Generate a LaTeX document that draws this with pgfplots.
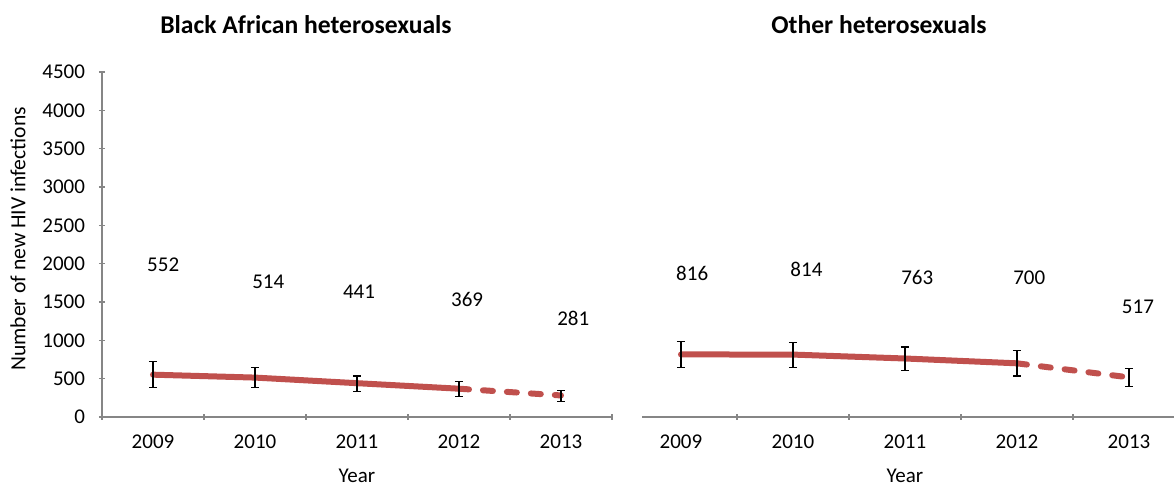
\documentclass[border=0pt]{standalone}
\usepackage{fontspec}
\setmainfont{Carlito}
\usepackage{pgfplots}
\usepackage{pgfplotstable}
\pgfplotsset{compat=1.18}

\definecolor{trendred}{RGB}{192,80,77}
\definecolor{axisgray}{RGB}{134,134,134}

% x: year index (0 = 2009), y: estimate, ep/em: upper/lower error,
% dx/ly: position of the value label
\pgfplotstableread{
x y   ep  em  dx    ly
0 552 169 170 0.10  1982
1 514 129 132 0.13  1764
2 441  94 111 0.02  1634
3 369  92 104 0.08  1535
4 281  62  81 0.12  1287
}\blackafrican

\pgfplotstableread{
x y   ep  em  dx    ly
0 816 166 168 0.10  1873
1 814 160 166 0.12  1925
2 763 150 159 0.11  1816
3 700 169 165 0.11  1816
4 517 118 122 0.08  1438
}\otherhet

\pgfplotsset{
  panel/.style={
    scale only axis,
    height=172.5pt,
    ymin=0, ymax=4500,
    clip=false,
    font=\fontsize{10.5}{12}\selectfont,
    /pgf/number format/assume math mode=true,
    /pgf/number format/1000 sep={},
    tick style={axisgray, line width=0.75pt},
    tick align=outside,
    major tick length=3pt,
    xticklabels={},
    extra x ticks={0,1,2,3,4},
    extra x tick labels={2009,2010,2011,2012,2013},
    extra x tick style={tick style={draw=none},
      xticklabel style={yshift=-4pt}},
  },
  flatlines/.style={axis line style={axisgray, line width=0.75pt, -}},
  trend/.style={trendred, line width=3pt, line cap=round, line join=round},
  trenddash/.style={trend, dash pattern=on 5pt off 7pt},
  ebars/.style={draw=none, mark=none, forget plot,
    error bars/.cd, y dir=both, y explicit,
    error bar style={black, line width=0.75pt},
    error mark options={black, line width=0.75pt, mark size=2pt, rotate=90}},
  vlabels/.style={draw=none, mark=none, forget plot,
    point meta=explicit symbolic,
    nodes near coords,
    nodes near coords align={center},
    every node near coord/.append style={anchor=center,
      font=\fontsize{10.5}{12}\selectfont, text=black}},
}

\begin{document}
\begin{tikzpicture}[x=1pt, y=1pt]
\useasboundingbox (0,0) rectangle (587,243);

% ---- Black African heterosexuals ----
\begin{axis}[panel,
  at={(51pt,34.5pt)}, anchor=south west,
  width=255pt,
  xmin=-0.5, xmax=4.5,
  axis x line=bottom, axis y line=left,
  flatlines,
  xtick={-0.5,0.5,1.5,2.5,3.5,4.5},
  ytick={0,500,...,4500},
  yticklabel style={xshift=-3.5pt},
  ylabel={Number of new HIV infections},
  ylabel style={at={(axis description cs:-0.1647,0.516)}, anchor=center,
    font=\fontsize{10.8}{12}\selectfont},
]
\addplot[trend] table[x=x, y=y, restrict x to domain=0:3] {\blackafrican};
\addplot[trenddash] table[x=x, y=y, restrict x to domain=3:4] {\blackafrican};
\addplot[ebars] table[x=x, y=y, y error plus=ep, y error minus=em] {\blackafrican};
\addplot[vlabels] table[x expr=\thisrow{x}+\thisrow{dx}, y=ly, meta=y] {\blackafrican};
\node[font=\fontsize{10.5}{12}\selectfont] at (axis cs:2,0) [yshift=-29.5pt] {Year};
\end{axis}

% ---- Other heterosexuals ----
\begin{axis}[panel,
  at={(321pt,34.5pt)}, anchor=south west,
  width=266pt,
  xmin=-0.348, xmax=4.402,
  axis x line=bottom, axis y line=none,
  flatlines,
  xtick={0.5,1.5,2.5,3.5},
  ytick=\empty,
]
\addplot[trend] table[x=x, y=y, restrict x to domain=0:3] {\otherhet};
\addplot[trenddash] table[x=x, y=y, restrict x to domain=3:4] {\otherhet};
\addplot[ebars] table[x=x, y=y, y error plus=ep, y error minus=em] {\otherhet};
\addplot[vlabels] table[x expr=\thisrow{x}+\thisrow{dx}, y=ly, meta=y] {\otherhet};
\node[font=\fontsize{10.5}{12}\selectfont] at (axis cs:2,0) [yshift=-29.5pt] {Year};
\end{axis}

% panel titles
\node[font=\fontsize{12.8}{14}\selectfont\bfseries] at (153pt,230.5pt) {Black African heterosexuals};
\node[font=\fontsize{12.8}{14}\selectfont\bfseries] at (439.5pt,230.5pt) {Other heterosexuals};
\end{tikzpicture}
\end{document}
